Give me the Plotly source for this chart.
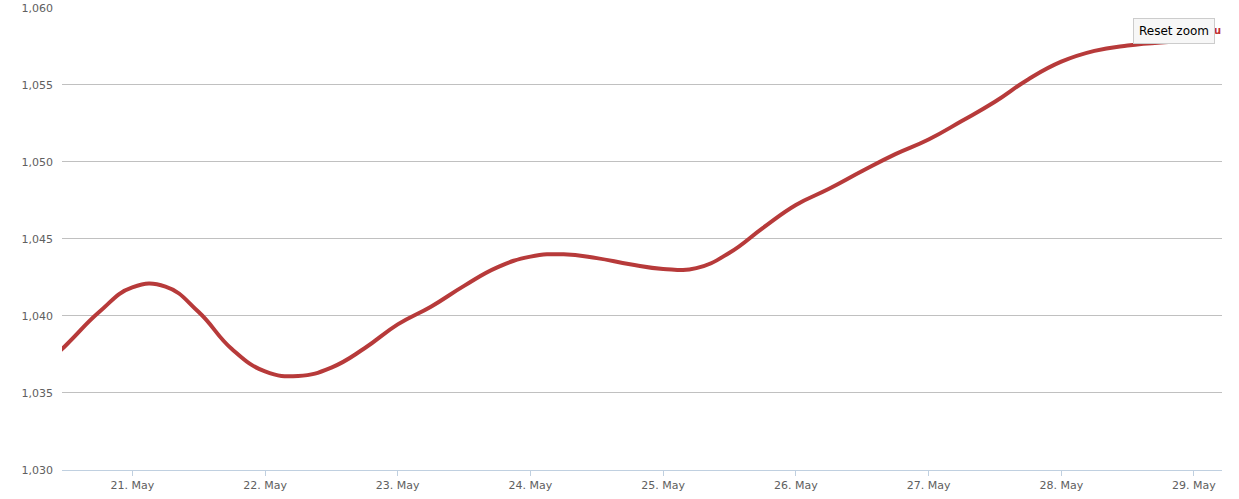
import plotly.graph_objects as go

times = [
    "2013-05-20 06:00", "2013-05-20 12:00", "2013-05-20 18:00",
    "2013-05-21 00:00", "2013-05-21 06:00", "2013-05-21 12:00", "2013-05-21 18:00",
    "2013-05-22 00:00", "2013-05-22 06:00", "2013-05-22 12:00", "2013-05-22 18:00",
    "2013-05-23 00:00", "2013-05-23 06:00", "2013-05-23 12:00", "2013-05-23 18:00",
    "2013-05-24 00:00", "2013-05-24 06:00", "2013-05-24 12:00", "2013-05-24 18:00",
    "2013-05-25 00:00", "2013-05-25 06:00", "2013-05-25 12:00", "2013-05-25 18:00",
    "2013-05-26 00:00", "2013-05-26 06:00", "2013-05-26 12:00", "2013-05-26 18:00",
    "2013-05-27 00:00", "2013-05-27 06:00", "2013-05-27 12:00", "2013-05-27 18:00",
    "2013-05-28 00:00", "2013-05-28 06:00", "2013-05-28 12:00", "2013-05-28 18:00",
    "2013-05-29 00:00",
]
values = [
    1036.1, 1038.1, 1040.25,
    1041.85, 1041.9, 1040.25, 1037.85,
    1036.4, 1036.1, 1036.65, 1037.9,
    1039.45, 1040.6, 1041.95, 1043.15,
    1043.85, 1044.0, 1043.75, 1043.35,
    1043.05, 1043.1, 1044.1, 1045.7,
    1047.2, 1048.25, 1049.4, 1050.5,
    1051.45, 1052.65, 1053.9, 1055.35,
    1056.5, 1057.2, 1057.55, 1057.75,
    1057.83,
]
x_range = ["2013-05-20 11:17", "2013-05-29 05:04"]
y_range = [1030, 1060.05]

fig = go.Figure()
fig.add_trace(go.Scatter(
    x=times, y=values, mode="lines",
    line=dict(color="#B73A3A", width=4, shape="spline", smoothing=1.3),
    hoverinfo="skip", showlegend=False,
))

font = dict(family="DejaVu Sans, Verdana, sans-serif", size=11, color="#606060")

fig.update_layout(
    width=1239, height=499,
    margin=dict(l=62, r=17, t=7, b=29, autoexpand=False),
    paper_bgcolor="white", plot_bgcolor="white",
    font=font,
    showlegend=False,
    xaxis=dict(
        type="date", range=x_range, automargin=False,
        tick0="2013-05-21", dtick=86400000, tickformat="%-d. %b",
        showgrid=False, zeroline=False,
        showline=True, linecolor="#C0D0E0", linewidth=1,
        ticks="outside", ticklen=5, tickcolor="#C0D0E0", tickwidth=1,
        tickfont=font,
    ),
    yaxis=dict(
        range=y_range, dtick=5, tick0=1030, tickformat=",d", automargin=False,
        showgrid=True, gridcolor="#C0C0C0", gridwidth=1,
        zeroline=False, showline=False, ticks="",
        ticklabelstandoff=8, tickfont=font,
    ),
    annotations=[
        dict(xref="paper", yref="paper", x=(1217 - 62) / 1160, y=(470 - 31) / 463,
             text="<b>u</b>", showarrow=False,
             font=dict(family="DejaVu Sans", size=10, color="#C03030"),
             xanchor="center", yanchor="middle"),
        dict(xref="paper", yref="paper", x=(1174 - 62) / 1160, y=(470 - 31) / 463,
             text="Reset zoom", showarrow=False,
             font=dict(family="DejaVu Sans, Verdana, sans-serif", size=12, color="#000000"),
             bgcolor="#F7F7F7", bordercolor="#CCCCCC", borderwidth=1, borderpad=5,
             xanchor="center", yanchor="middle"),
    ],
)

fig.write_html(
    "out.html",
    config={"displayModeBar": False},
    post_script="document.body.style.margin='0';document.body.style.overflow='hidden';",
)
